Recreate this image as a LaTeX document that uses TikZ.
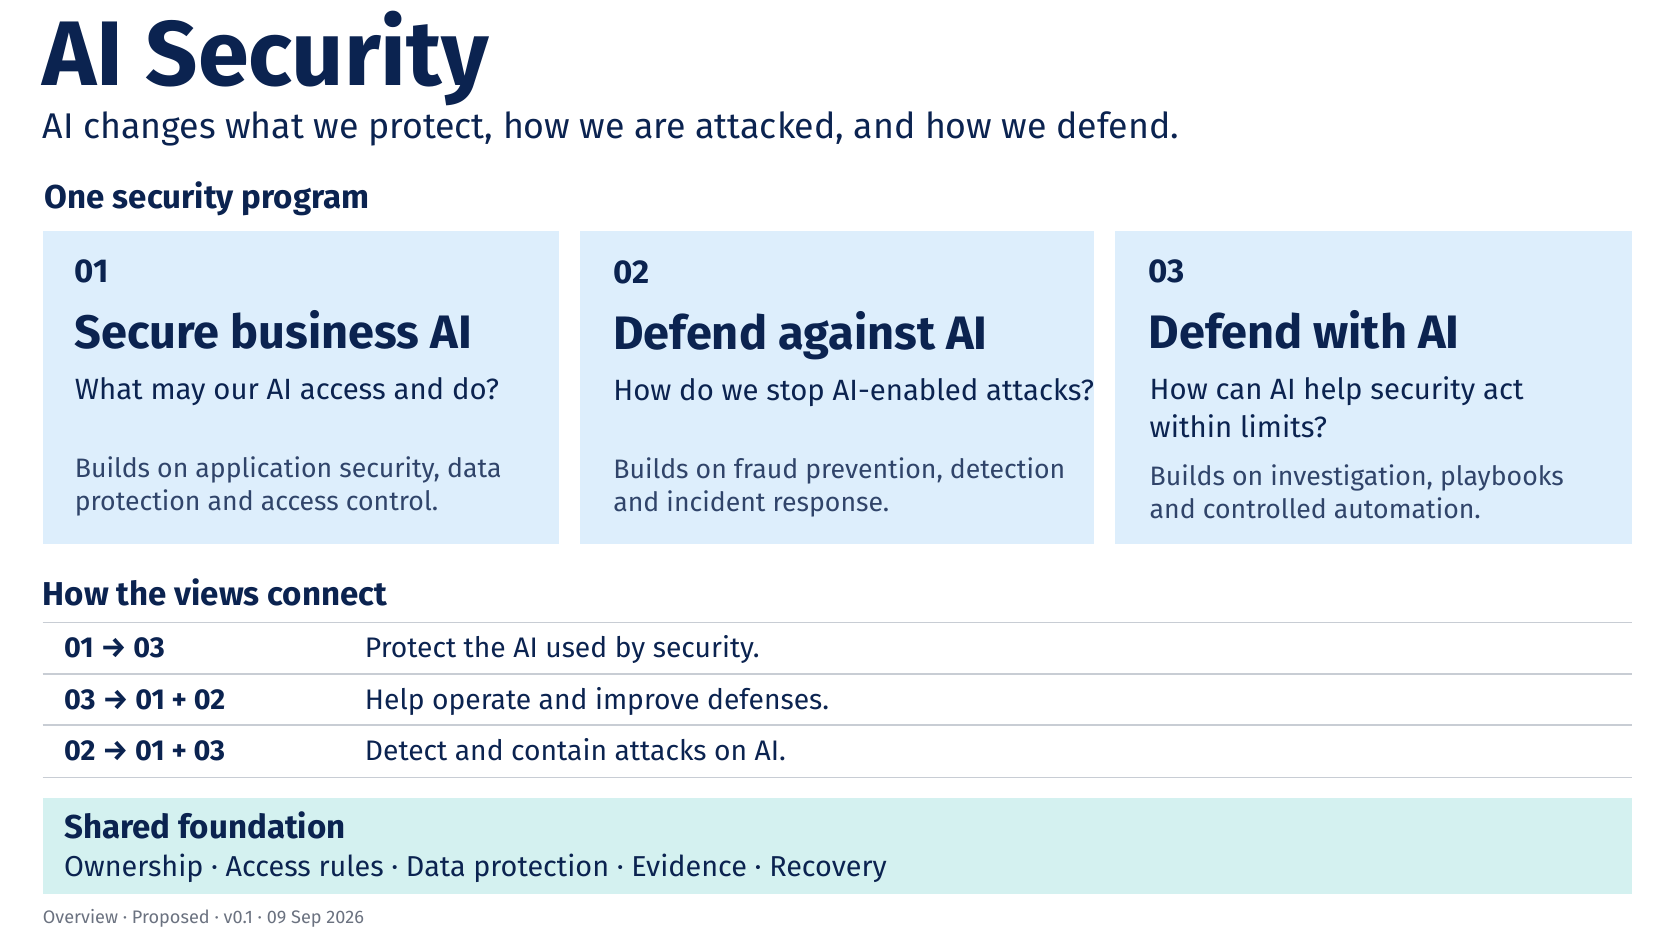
\documentclass[tikz,border=0pt]{standalone}
\usepackage{fontspec}
\setmainfont{Fira Sans}
\definecolor{navy}{HTML}{0B2350}
\definecolor{boxbg}{HTML}{DDEEFC}
\definecolor{foundbg}{HTML}{D4F1F0}
\definecolor{rule}{HTML}{C8CDD4}
\definecolor{foot}{HTML}{6B7280}
\begin{document}
\begin{tikzpicture}[x=1pt,y=-1pt,
  txt/.style={anchor=base west,inner sep=0pt,text=navy},
  card/.style={fill=boxbg,draw=none},
  num/.style={txt,font=\fontsize{31}{34}\selectfont\bfseries},
  head/.style={txt,font=\fontsize{44}{48}\selectfont\bfseries},
  ques/.style={txt,font=\fontsize{27.5}{35}\selectfont,align=left},
  body/.style={txt,font=\fontsize{25}{31}\selectfont,text=navy!85,align=left},
  sec/.style={txt,font=\fontsize{31}{34}\selectfont\bfseries},
  rowl/.style={txt,font=\fontsize{27}{30}\selectfont\bfseries},
  rowr/.style={txt,font=\fontsize{26.5}{30}\selectfont},
  hl/.style={draw=rule,line width=1.2pt}]
\useasboundingbox (0,0) rectangle (1568,882);
\fill[white] (0,0) rectangle (1568,882);
\node[txt,font=\fontsize{86}{90}\selectfont\bfseries] (title) at (40,80) {AI Security};
\node[txt,font=\fontsize{33.5}{38}\selectfont] (sub) at (40,130) {AI changes what we protect, how we are attacked, and how we defend.};
\node[sec] (s1) at (42,196) {One security program};
\node[card,minimum width=484,minimum height=294,anchor=north west] (c1) at (40,216) {};
\node[card,minimum width=482,minimum height=294,anchor=north west] (c2) at (544,216) {};
\node[card,minimum width=485,minimum height=294,anchor=north west] (c3) at (1045,216) {};
\node[num] (n1) at (70,265) {01};
\node[head] (h1) at (70,327) {Secure business AI};
\node[ques] (q1) at (70,375) {What may our AI access and do?};
\node[body] (b1) at (70,479) {Builds on application security, data\\protection and access control.};
\node[num] (n2) at (575,266) {02};
\node[head] (h2) at (575,328) {Defend against AI};
\node[ques] (q2) at (575,376) {How do we stop AI-enabled attacks?};
\node[body] (b2) at (575,480) {Builds on fraud prevention, detection\\and incident response.};
\node[num] (n3) at (1077,265) {03};
\node[head] (h3) at (1077,327) {Defend with AI};
\node[ques] (q3) at (1078,410) {How can AI help security act\\within limits?};
\node[body] (b3) at (1078,486) {Builds on investigation, playbooks\\and controlled automation.};
\node[sec] (s2) at (40,568) {How the views connect};
\coordinate (l1a) at (40,584); \coordinate (l1b) at (1530,584);
\coordinate (l2a) at (40,632); \coordinate (l2b) at (1530,632);
\coordinate (l3a) at (40,680); \coordinate (l3b) at (1530,680);
\coordinate (l4a) at (40,729); \coordinate (l4b) at (1530,729);
\draw[hl] (l1a)--(l1b); \draw[hl] (l2a)--(l2b); \draw[hl] (l3a)--(l3b); \draw[hl] (l4a)--(l4b);
\node[rowl] (r1l) at (60,617) {01 → 03};
\node[rowr] (r1r) at (342,617) {Protect the AI used by security.};
\node[rowl] (r2l) at (60,665) {03 → 01 + 02};
\node[rowr] (r2r) at (342,665) {Help operate and improve defenses.};
\node[rowl] (r3l) at (60,713) {02 → 01 + 03};
\node[rowr] (r3r) at (342,713) {Detect and contain attacks on AI.};
\node[fill=foundbg,minimum width=1490,minimum height=90,anchor=north west] (fb) at (40,748) {};
\node[txt,font=\fontsize{31}{34}\selectfont\bfseries] (ft) at (60,786) {Shared foundation};
\node[txt,font=\fontsize{27}{30}\selectfont] (fi) at (60,822) {Ownership · Access rules · Data protection · Evidence · Recovery};
\node[txt,font=\fontsize{17}{20}\selectfont,text=foot] (foot) at (40,866) {Overview · Proposed · v0.1 · 09 Sep 2026};
\end{tikzpicture}
\end{document}
